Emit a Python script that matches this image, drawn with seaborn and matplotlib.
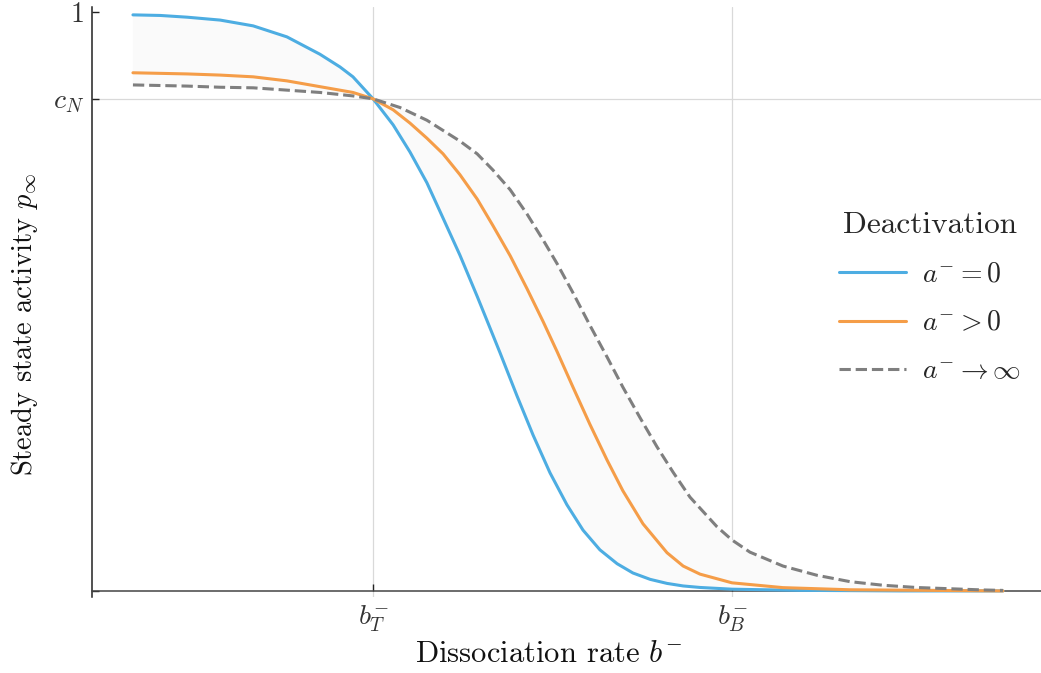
import matplotlib
matplotlib.use("Agg")
import matplotlib.pyplot as plt
import seaborn as sns
import pandas as pd

# x positions in units where b_T = 1 and b_B = 2
blue_x = [0.331, 0.407, 0.482, 0.574, 0.666, 0.760, 0.852, 0.908, 0.944, 1.000, 1.056, 1.103,
          1.150, 1.195, 1.242, 1.290, 1.326, 1.354, 1.401, 1.446, 1.493, 1.540, 1.585, 1.632,
          1.680, 1.724, 1.772, 1.819, 1.864, 1.911, 2.000, 2.189, 2.468, 2.755]
blue_y = [0.995, 0.994, 0.991, 0.986, 0.976, 0.957, 0.927, 0.905, 0.888, 0.850, 0.805, 0.758,
          0.705, 0.644, 0.580, 0.509, 0.454, 0.411, 0.337, 0.269, 0.204, 0.149, 0.105, 0.071,
          0.047, 0.031, 0.020, 0.013, 0.0086, 0.006, 0.003, 0.001, 0.0, 0.0]

orange_x = [0.331, 0.482, 0.574, 0.666, 0.760, 0.852, 0.944, 1.000, 1.056, 1.103, 1.150, 1.195,
            1.242, 1.290, 1.334, 1.382, 1.429, 1.474, 1.513, 1.557, 1.604, 1.652, 1.696, 1.752,
            1.819, 1.864, 1.911, 2.000, 2.142, 2.329, 2.755]
orange_y = [0.895, 0.893, 0.891, 0.888, 0.881, 0.871, 0.861, 0.850, 0.831, 0.808, 0.782, 0.755,
            0.719, 0.677, 0.631, 0.579, 0.522, 0.465, 0.413, 0.352, 0.288, 0.226, 0.173, 0.116,
            0.066, 0.043, 0.029, 0.014, 0.0057, 0.002, 0.0]

gray_x = [0.331, 0.482, 0.574, 0.666, 0.760, 0.852, 0.944, 1.000, 1.075, 1.150, 1.242, 1.290,
          1.334, 1.382, 1.429, 1.474, 1.513, 1.557, 1.604, 1.652, 1.696, 1.744, 1.791, 1.836,
          1.883, 1.958, 2.000, 2.050, 2.142, 2.237, 2.329, 2.421, 2.515, 2.699, 2.755]
gray_y = [0.874, 0.872, 0.870, 0.869, 0.865, 0.861, 0.855, 0.850, 0.835, 0.813, 0.777, 0.755,
          0.727, 0.693, 0.651, 0.606, 0.565, 0.515, 0.459, 0.404, 0.352, 0.299, 0.249, 0.205,
          0.162, 0.111, 0.088, 0.067, 0.043, 0.027, 0.016, 0.0098, 0.0059, 0.0017, 0.0009]

series_labels = [r"$a^{-}=0$", r"$a^{-}>0$", r"$a^{-}\to\infty$"]
legend_title = "Deactivation"
x_ticks = [1.0, 2.0]
x_tick_labels = [r"$b^{-}_{T}$", r"$b^{-}_{B}$"]
c_N = 0.850
y_ticks = [0.0, c_N, 1.0]
y_tick_labels = ["", r"$c_N$", r"$1$"]

sns.set_theme(style="white")
plt.rcParams["font.family"] = ["cmr10", "DejaVu Serif"]
plt.rcParams["mathtext.fontset"] = "cm"
plt.rcParams["axes.formatter.use_mathtext"] = True

fig = plt.figure(figsize=(10.41, 6.73), dpi=100)
ax = fig.add_axes([0.0884, 0.113, 0.9116, 0.8766])

ax.spines["top"].set_visible(False)
ax.spines["right"].set_visible(False)
ax.spines["bottom"].set_position(("data", 0))
ax.spines["left"].set_color("#222222")
ax.spines["bottom"].set_color("#444444")
ax.spines["left"].set_linewidth(1.1)
ax.spines["bottom"].set_linewidth(1.1)

colors = ["#4dade2", "#f59d48", "#7f7f7f"]

# shaded region between the a=0 and a->inf curves
poly_x = blue_x + gray_x[::-1]
poly_y = blue_y + gray_y[::-1]
ax.fill(poly_x, poly_y, color="#fafafa", zorder=1, linewidth=0)

df = pd.concat([
    pd.DataFrame({"x": blue_x, "y": blue_y, "s": series_labels[0]}),
    pd.DataFrame({"x": orange_x, "y": orange_y, "s": series_labels[1]}),
    pd.DataFrame({"x": gray_x, "y": gray_y, "s": series_labels[2]}),
])
for lab, col, ls in zip(series_labels, colors, ["-", "-", "--"]):
    sub = df[df["s"] == lab]
    sns.lineplot(data=sub, x="x", y="y", ax=ax, color=col, linestyle=ls,
                 linewidth=2.2, label=lab, sort=False, estimator=None, zorder=3)

ax.set_xlim(0.217, 2.861)
ax.set_ylim(-0.0104, 1.0086)

ax.set_xticks(x_ticks, x_tick_labels)
ax.set_yticks(y_ticks, y_tick_labels)

for xv in x_ticks:
    ax.axvline(xv, color="#d9d9d9", linewidth=0.9, zorder=0)
ax.axhline(c_N, color="#d9d9d9", linewidth=0.9, zorder=0)

ax.tick_params(axis="both", direction="in", length=5, width=1.0, colors="#222222",
               labelcolor="#333333", labelsize=20, pad=6, bottom=True, left=True)
ax.tick_params(axis="x", pad=9)

ax.set_xlabel(r"Dissociation rate $b^{-}$", fontsize=22, color="#111111")
ax.xaxis.set_label_coords(0.4816, -0.074)
ax.set_ylabel(r"Steady state activity $p_\infty$", fontsize=20.5, color="#111111")
ax.yaxis.set_label_coords(-0.055, 0.461)

leg = ax.legend(title=legend_title, loc="center", bbox_to_anchor=(0.883, 0.5065),
                frameon=False, fontsize=20, title_fontsize=22.5, handlelength=2.4,
                labelspacing=0.8, handletextpad=0.6)

fig.savefig("out.png", dpi=100)
